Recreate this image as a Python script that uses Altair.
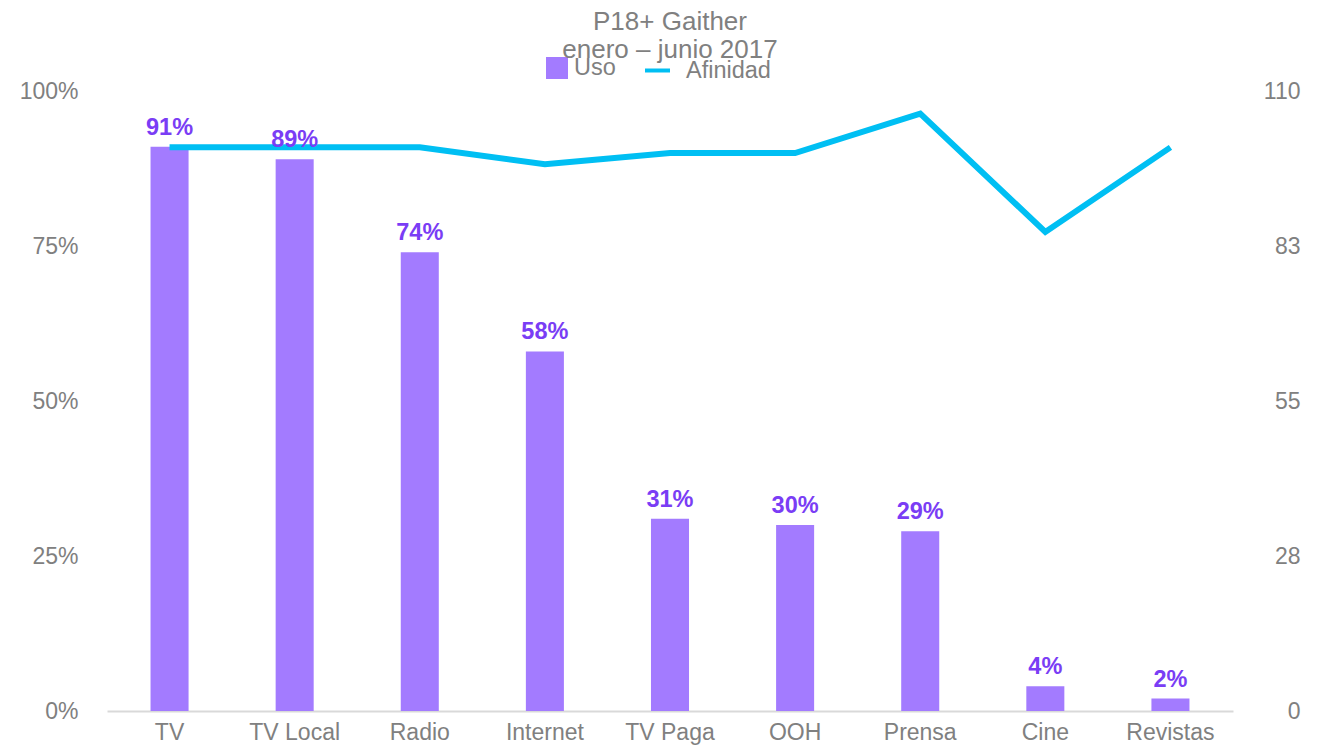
import altair as alt
import pandas as pd

categories = ["TV", "TV Local", "Radio", "Internet", "TV Paga", "OOH", "Prensa", "Cine", "Revistas"]
uso = [0.91, 0.89, 0.74, 0.58, 0.31, 0.30, 0.29, 0.04, 0.02]
afinidad = [100, 100, 100, 97, 99, 99, 106, 85, 100]
uso_ticks = [0, 0.25, 0.5, 0.75, 1]
afin_ticks = [0, 27.5, 55, 82.5, 110]

df = pd.DataFrame({"cat": categories, "uso": uso, "afinidad": afinidad})

FONT = "Liberation Sans"
GRAY = "#808080"
PURPLE = "#a37bff"
LABEL_PURPLE = "#7a3df5"
CYAN = "#00bff3"

x = alt.X(
    "cat:N", sort=categories, title=None,
    scale=alt.Scale(paddingInner=0.696, paddingOuter=0.348),
    axis=alt.Axis(labelAngle=0, labelFontSize=23, labelColor=GRAY, labelFont=FONT,
                  ticks=False, domainColor="#d9d9d9", domainWidth=2, labelPadding=10,
                  labelBaseline="top"),
)

y_left = alt.Y(
    "uso:Q", title=None, scale=alt.Scale(domain=[0, 1], nice=False),
    axis=alt.Axis(values=uso_ticks, format=".0%", grid=False, domain=False, ticks=False,
                  labelPadding=29, labelFontSize=23, labelColor=GRAY, labelFont=FONT),
)

bars = alt.Chart(df).transform_calculate(s_uso="'Uso'").mark_bar().encode(
    x=x,
    y=y_left,
    fill=alt.Fill("s_uso:N", scale=alt.Scale(domain=["Uso"], range=[PURPLE]),
                  legend=alt.Legend(title=None, orient="none", legendX=438, legendY=-35,
                                    symbolType="square", symbolSize=484, labelOffset=5,
                                    labelFontSize=23.5, labelColor=GRAY, labelFont=FONT,
                                    padding=0)),
)

labels = alt.Chart(df).mark_text(
    font=FONT, fontSize=23.5, fontWeight="bold", color=LABEL_PURPLE,
    baseline="alphabetic", dy=-12,
).encode(
    x=alt.X("cat:N", sort=categories),
    y=alt.Y("uso:Q", scale=alt.Scale(domain=[0, 1], nice=False), axis=None),
    text=alt.Text("uso:Q", format=".0%"),
)

line = alt.Chart(df).transform_calculate(s_af="'Afinidad'").mark_line(strokeWidth=6).encode(
    x=alt.X("cat:N", sort=categories),
    y=alt.Y("afinidad:Q", title=None, scale=alt.Scale(domain=[0, 110], nice=False),
            axis=alt.Axis(orient="right", values=afin_ticks, format=".0f", grid=False,
                          domain=False, ticks=False, labelAlign="right", labelPadding=67,
                          labelFontSize=23, labelColor=GRAY, labelFont=FONT)),
    stroke=alt.Stroke("s_af:N", scale=alt.Scale(domain=["Afinidad"], range=[CYAN]),
                      legend=alt.Legend(title=None, orient="none", legendX=536, legendY=-35,
                                        symbolType="stroke", symbolSize=625, symbolStrokeWidth=4,
                                        labelOffset=14, labelFontSize=23.5, labelColor=GRAY,
                                        labelFont=FONT, padding=0)),
)

chart = alt.layer(bars, line, labels).resolve_scale(y="independent").properties(
    width=1126,
    height=620,
    autosize=alt.AutoSizeParams(type="none"),
    padding={"left": 99, "top": 83, "right": 81, "bottom": 35},
    title=alt.TitleParams(
        ["P18+ Gaither", "enero – junio 2017"], fontSize=26, font=FONT, color=GRAY,
        fontWeight="normal", anchor="middle", lineHeight=28, offset=-7,
    ),
).configure_view(stroke=None)

chart.save("out.html", embed_options={"renderer": "svg", "actions": False})
